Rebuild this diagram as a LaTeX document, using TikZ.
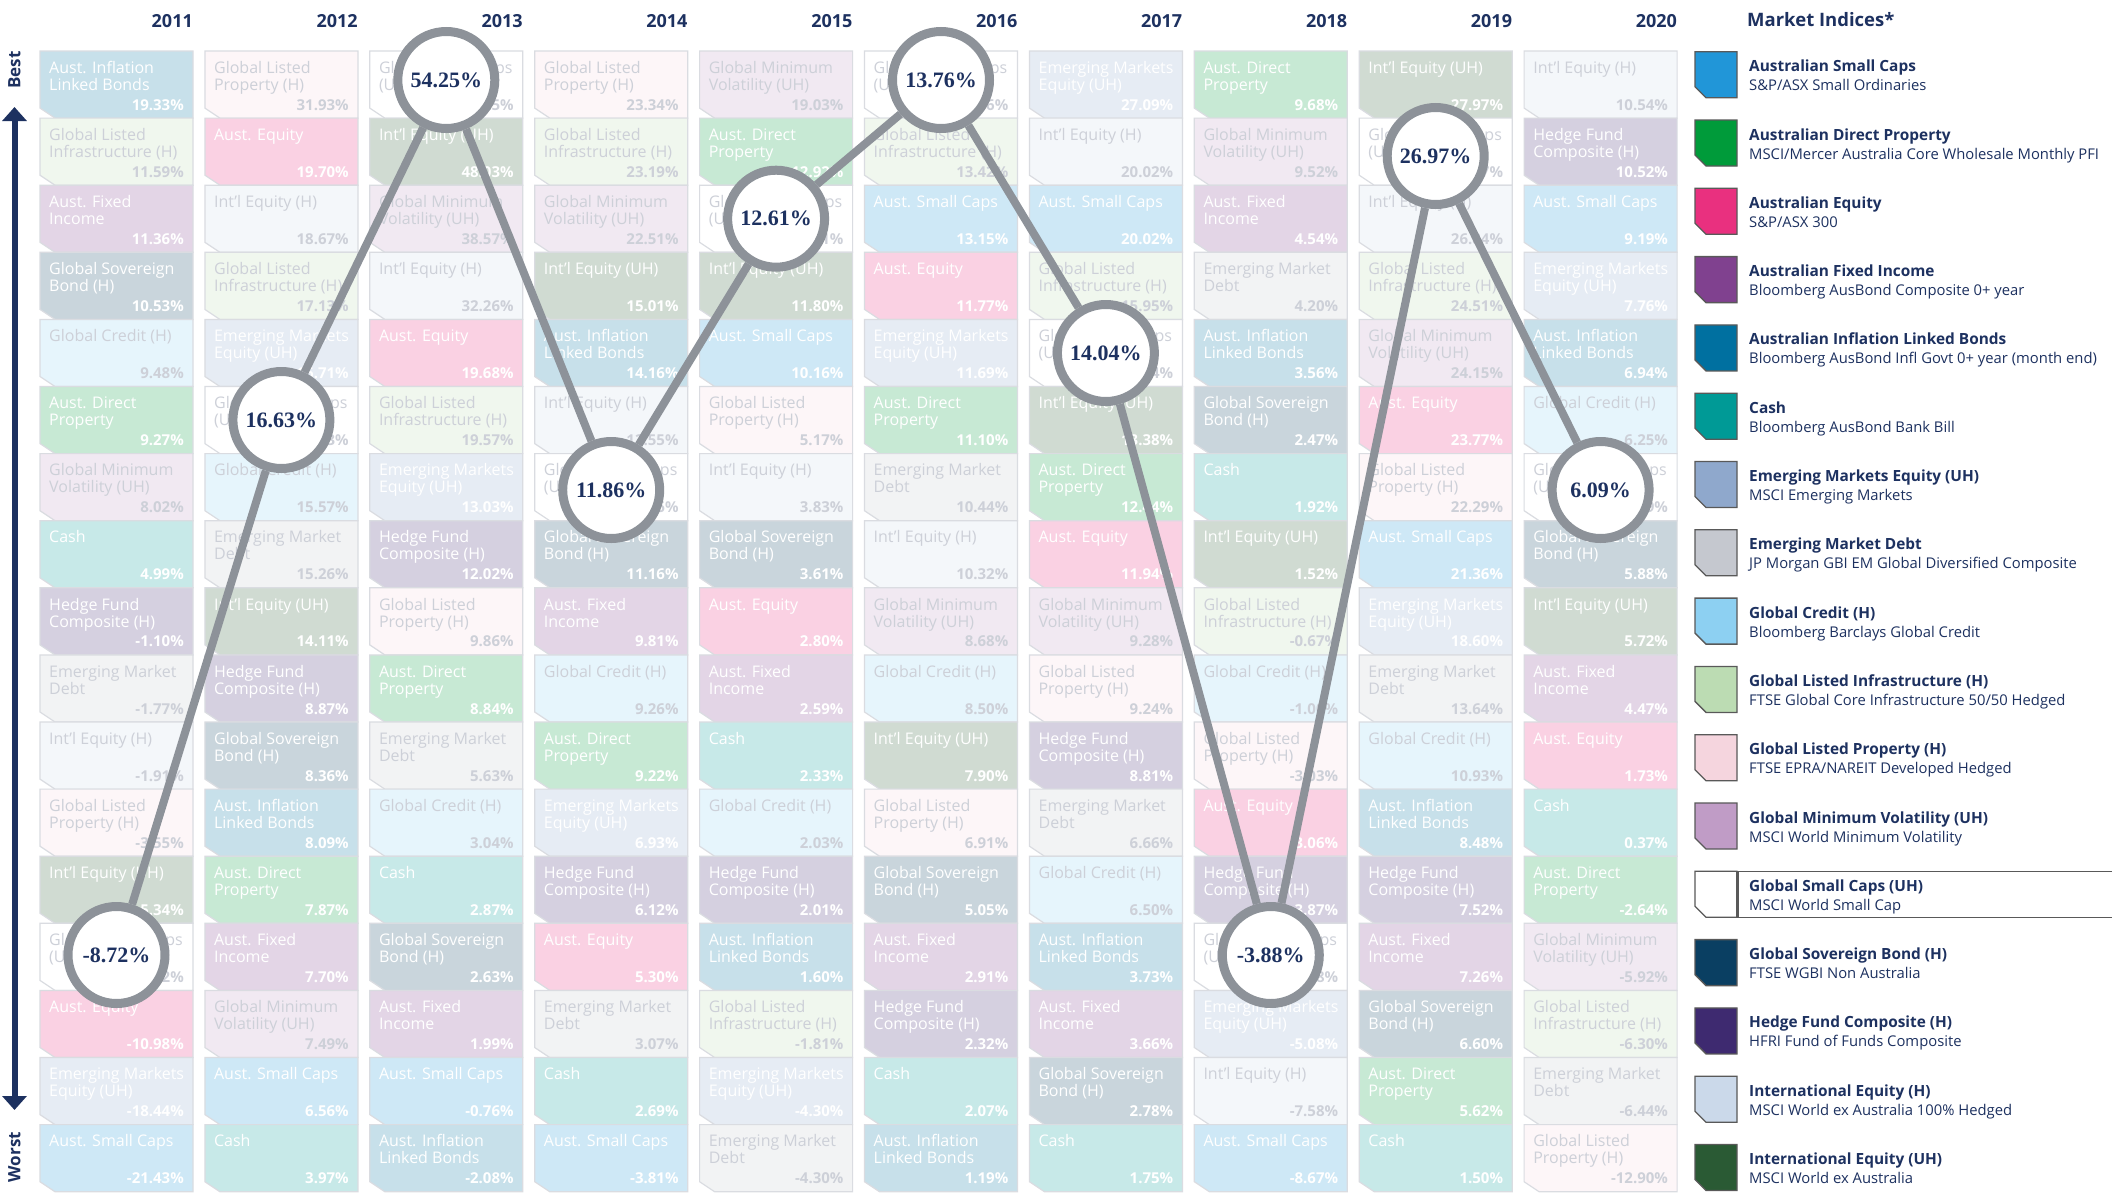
\documentclass[tikz,border=0pt]{standalone}
\usepackage{fontspec}
\setmainfont{Open Sans}
\newfontfamily\ringfont{Liberation Serif}
\usetikzlibrary{arrows.meta}

% index colours (legend) -- the table uses them faded
\definecolor{navy}{HTML}{1D3160}
\definecolor{ringgray}{HTML}{8D9299}
\definecolor{cellline}{HTML}{DADCE1}
\definecolor{paletxt}{HTML}{CDD0D8}
\definecolor{cASC}{HTML}{2196D8}
\definecolor{cADP}{HTML}{009B3A}
\definecolor{cAEQ}{HTML}{E9307F}
\definecolor{cAFI}{HTML}{80418F}
\definecolor{cAILB}{HTML}{0070A0}
\definecolor{cCASH}{HTML}{009A96}
\definecolor{cEME}{HTML}{8FA8CC}
\definecolor{cEMD}{HTML}{C5C8CF}
\definecolor{cGCR}{HTML}{8DD0F2}
\definecolor{cGLI}{HTML}{BCDCB3}
\definecolor{cGLP}{HTML}{F5D5DE}
\definecolor{cGMV}{HTML}{C09CC6}
\definecolor{cGSC}{HTML}{FFFFFF}
\definecolor{cGSB}{HTML}{0A3F62}
\definecolor{cHFC}{HTML}{3E2A70}
\definecolor{cIEH}{HTML}{CBD9EA}
\definecolor{cIEU}{HTML}{2A5A34}
\colorlet{tASC}{white}\colorlet{tADP}{white}\colorlet{tAEQ}{white}
\colorlet{tAFI}{white}\colorlet{tAILB}{white}\colorlet{tCASH}{white}
\colorlet{tEME}{white}\colorlet{tGSB}{white}\colorlet{tHFC}{white}
\colorlet{tIEU}{white}
\colorlet{tEMD}{paletxt}\colorlet{tGCR}{paletxt}\colorlet{tGLI}{paletxt}
\colorlet{tGLP}{paletxt}\colorlet{tGMV}{paletxt}\colorlet{tGSC}{paletxt}
\colorlet{tIEH}{paletxt}

% cell names
\newcommand\nmASC{Aust. Small Caps}
\newcommand\nmADP{Aust. Direct\\Property}
\newcommand\nmAEQ{Aust. Equity}
\newcommand\nmAFI{Aust. Fixed\\Income}
\newcommand\nmAILB{Aust. Inflation\\Linked Bonds}
\newcommand\nmCASH{Cash}
\newcommand\nmEME{Emerging Markets\\Equity (UH)}
\newcommand\nmEMD{Emerging Market\\Debt}
\newcommand\nmGCR{Global Credit (H)}
\newcommand\nmGLI{Global Listed\\Infrastructure (H)}
\newcommand\nmGLP{Global Listed\\Property (H)}
\newcommand\nmGMV{Global Minimum\\Volatility (UH)}
\newcommand\nmGSC{Global Small Caps\\(UH)}
\newcommand\nmGSB{Global Sovereign\\Bond (H)}
\newcommand\nmHFC{Hedge Fund\\Composite (H)}
\newcommand\nmIEH{Int'l Equity (H)}
\newcommand\nmIEU{Int'l Equity (UH)}

\tikzset{
  assetname/.style={anchor=north west, inner sep=0pt, align=left,
    font=\fontsize{16}{17}\selectfont},
  assetret/.style={anchor=base east, inner sep=0pt,
    font=\bfseries\fontsize{15}{15}\selectfont},
  gscring/.style={circle, fill=white, draw=ringgray, line width=9pt,
    minimum size=97pt, inner sep=0pt, text=navy,
    font=\ringfont\bfseries\fontsize{22}{22}\selectfont},
  trail/.style={draw=ringgray, line width=8pt},
  yearlbl/.style={anchor=base east, inner sep=0pt, text=navy,
    font=\bfseries\fontsize{18}{18}\selectfont},
  axislbl/.style={rotate=90, inner sep=0pt, text=navy,
    font=\bfseries\fontsize{17}{17}\selectfont},
  legtitle/.style={anchor=base west, inner sep=0pt, text=navy,
    font=\bfseries\fontsize{15.4}{15.4}\selectfont},
  legsub/.style={anchor=base west, inner sep=0pt, text=navy,
    font=\fontsize{14.8}{14.8}\selectfont},
  swatch/.style={draw=black!65, line width=1.3pt},
}

% column, row, asset, return
\newcommand\assetcell[4]{%
  \pgfmathsetmacro\cx{40+#1*164.9}
  \pgfmathsetmacro\cy{-51-#2*67.1}
  \filldraw[fill=c#3!22!white, draw=cellline, line width=1.2pt]
    (\cx,\cy) -- ++(153,0) -- ++(0,-67.1) -- ++(-138,0) -- ++(-15,10) -- cycle;
  \node[assetname, text=t#3] (n#1-#2) at (\cx+9,\cy-9)
    {\rule{0pt}{13pt}\csname nm#3\endcsname};
  \node[assetret, text=t#3] (r#1-#2) at (\cx+144,\cy-59.1) {#4\%};
}
\newcommand\yearcol[2]{%
  \foreach \code/\val [count=\row from 0] in {#2}
    {\edef\tmp{\noexpand\assetcell{#1}{\row}{\code}{\val}}\tmp}
}

\begin{document}
\begin{tikzpicture}[x=1pt,y=1pt]
\fill[white] (0,0) rectangle (2112,-1192);
\useasboundingbox (0,0) rectangle (2112,-1192);

% years
\foreach \yr [count=\c from 0] in {2011,...,2020}
  \node[yearlbl] (y\yr) at ({193+\c*164.9},-27) {\yr};

% best / worst
\coordinate (axtop) at (14.5,-107);
\coordinate (axbot) at (14.5,-1110);
\draw[navy, line width=6pt, {Triangle[width=24pt,length=14pt]}-{Triangle[width=24pt,length=14pt]}] (axtop) -- (axbot);
\node[axislbl] (best) at (14.5,-70) {Best};
\node[axislbl] (worst) at (14.5,-1157) {Worst};

% the table
\yearcol{0}{AILB/19.33, GLI/11.59, AFI/11.36, GSB/10.53, GCR/9.48, ADP/9.27, GMV/8.02, CASH/4.99, HFC/-1.10, EMD/-1.77, IEH/-1.91, GLP/-3.55, IEU/-5.34, GSC/-8.72, AEQ/-10.98, EME/-18.44, ASC/-21.43}
\yearcol{1}{GLP/31.93, AEQ/19.70, IEH/18.67, GLI/17.13, EME/16.71, GSC/16.63, GCR/15.57, EMD/15.26, IEU/14.11, HFC/8.87, GSB/8.36, AILB/8.09, ADP/7.87, AFI/7.70, GMV/7.49, ASC/6.56, CASH/3.97}
\yearcol{2}{GSC/54.25, IEU/48.03, GMV/38.57, IEH/32.26, AEQ/19.68, GLI/19.57, EME/13.03, HFC/12.02, GLP/9.86, ADP/8.84, EMD/5.63, GCR/3.04, CASH/2.87, GSB/2.63, AFI/1.99, ASC/-0.76, AILB/-2.08}
\yearcol{3}{GLP/23.34, GLI/23.19, GMV/22.51, IEU/15.01, AILB/14.16, IEH/12.55, GSC/11.86, GSB/11.16, AFI/9.81, GCR/9.26, ADP/9.22, EME/6.93, HFC/6.12, AEQ/5.30, EMD/3.07, CASH/2.69, ASC/-3.81}
\yearcol{4}{GMV/19.03, ADP/12.92, GSC/12.61, IEU/11.80, ASC/10.16, GLP/5.17, IEH/3.83, GSB/3.61, AEQ/2.80, AFI/2.59, CASH/2.33, GCR/2.03, HFC/2.01, AILB/1.60, GLI/-1.81, EME/-4.30, EMD/-4.30}
\yearcol{5}{GSC/13.76, GLI/13.42, ASC/13.15, AEQ/11.77, EME/11.69, ADP/11.10, EMD/10.44, IEH/10.32, GMV/8.68, GCR/8.50, IEU/7.90, GLP/6.91, GSB/5.05, AFI/2.91, HFC/2.32, CASH/2.07, AILB/1.19}
\yearcol{6}{EME/27.09, IEH/20.02, ASC/20.02, GLI/15.95, GSC/14.04, IEU/13.38, ADP/12.44, AEQ/11.94, GMV/9.28, GLP/9.24, HFC/8.81, EMD/6.66, GCR/6.50, AILB/3.73, AFI/3.66, GSB/2.78, CASH/1.75}
\yearcol{7}{ADP/9.68, GMV/9.52, AFI/4.54, EMD/4.20, AILB/3.56, GSB/2.47, CASH/1.92, IEU/1.52, GLI/-0.67, GCR/-1.00, GLP/-3.03, AEQ/-3.06, HFC/-3.87, GSC/-3.88, EME/-5.08, IEH/-7.58, ASC/-8.67}
\yearcol{8}{IEU/27.97, GSC/26.97, IEH/26.84, GLI/24.51, GMV/24.15, AEQ/23.77, GLP/22.29, ASC/21.36, EME/18.60, EMD/13.64, GCR/10.93, AILB/8.48, HFC/7.52, AFI/7.26, GSB/6.60, ADP/5.62, CASH/1.50}
\yearcol{9}{IEH/10.54, HFC/10.52, ASC/9.19, EME/7.76, AILB/6.94, GCR/6.25, GSC/6.09, GSB/5.88, IEU/5.72, AFI/4.47, AEQ/1.73, CASH/0.37, ADP/-2.64, GMV/-5.92, GLI/-6.30, EMD/-6.44, GLP/-12.90}

% global small caps path
\node[gscring] (g2011) at (116.5,-955) {-8.72\%};
\node[gscring] (g2012) at (281.4,-420) {16.63\%};
\node[gscring] (g2013) at (446.3,-80) {54.25\%};
\node[gscring] (g2014) at (611.2,-490) {11.86\%};
\node[gscring] (g2015) at (776.1,-218.7) {12.61\%};
\node[gscring] (g2016) at (941,-80) {13.76\%};
\node[gscring] (g2017) at (1105.9,-353) {14.04\%};
\node[gscring] (g2018) at (1270.8,-955) {-3.88\%};
\node[gscring] (g2019) at (1435.7,-156) {26.97\%};
\node[gscring] (g2020) at (1600.6,-490) {6.09\%};
\draw[trail] (g2011) -- (g2012) -- (g2013) -- (g2014) -- (g2015) -- (g2016)
  -- (g2017) -- (g2018) -- (g2019) -- (g2020);

% legend
\node[anchor=base west, inner sep=0pt, text=navy, font=\bfseries\fontsize{18.5}{18.5}\selectfont]
  (mkt) at (1747,-26) {Market Indices*};
\foreach \code/\ttl/\sub [count=\i from 0] in {
  ASC/{Australian Small Caps}/{S\&P/ASX Small Ordinaries},
  ADP/{Australian Direct Property}/{MSCI/Mercer Australia Core Wholesale Monthly PFI},
  AEQ/{Australian Equity}/{S\&P/ASX 300},
  AFI/{Australian Fixed Income}/{Bloomberg AusBond Composite 0+ year},
  AILB/{Australian Inflation Linked Bonds}/{Bloomberg AusBond Infl Govt 0+ year (month end)},
  CASH/{Cash}/{Bloomberg AusBond Bank Bill},
  EME/{Emerging Markets Equity (UH)}/{MSCI Emerging Markets},
  EMD/{Emerging Market Debt}/{JP Morgan GBI EM Global Diversified Composite},
  GCR/{Global Credit (H)}/{Bloomberg Barclays Global Credit},
  GLI/{Global Listed Infrastructure (H)}/{FTSE Global Core Infrastructure 50/50 Hedged},
  GLP/{Global Listed Property (H)}/{FTSE EPRA/NAREIT Developed Hedged},
  GMV/{Global Minimum Volatility (UH)}/{MSCI World Minimum Volatility},
  GSC/{Global Small Caps (UH)}/{MSCI World Small Cap},
  GSB/{Global Sovereign Bond (H)}/{FTSE WGBI Non Australia},
  HFC/{Hedge Fund Composite (H)}/{HFRI Fund of Funds Composite},
  IEH/{International Equity (H)}/{MSCI World ex Australia 100\% Hedged},
  IEU/{International Equity (UH)}/{MSCI World ex Australia}} {
  \pgfmathsetmacro\ly{-51.7-\i*68.3}
  \filldraw[swatch, fill=c\code] (1695,\ly) -- ++(42,0) -- ++(0,-46) -- ++(-31,0) -- ++(-11,11) -- cycle;
  \node[legtitle] (lt\i) at (1749,\ly-20) {\ttl};
  \node[legsub] (ls\i) at (1749,\ly-39) {\sub};
}
% box round the highlighted index
\draw[swatch] (1695,-871.3) -- (2112,-871.3);
\draw[swatch] (1706,-917.3) -- (2112,-917.3);
\draw[swatch, line width=3pt] (1737,-871.3) -- (1737,-917.3);
\end{tikzpicture}
\end{document}
